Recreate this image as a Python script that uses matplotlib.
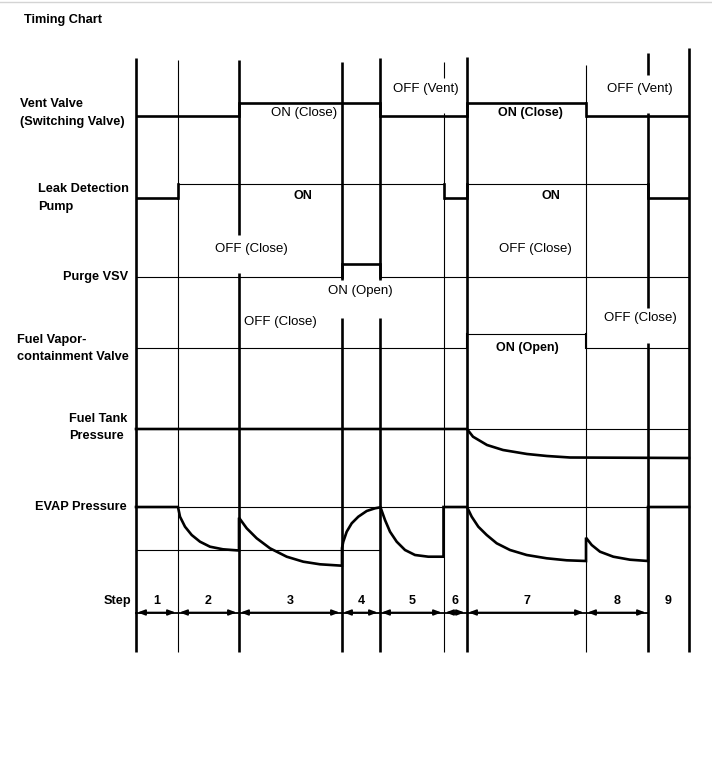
import matplotlib
matplotlib.use("Agg")
import matplotlib.pyplot as plt

plt.rcParams['font.family'] = ['Liberation Sans', 'DejaVu Sans']

# step boundaries along the time axis
t = [136, 178, 239, 342, 380, 444, 467, 586, 648, 689]
step_names = ['1', '2', '3', '4', '5', '6', '7', '8', '9']
thick_bounds = [136, 239, 342, 380, 467, 648, 689]
bound_tops = [58, 60, 60, 62, 58, 62, 57, 65, 53, 48]
bound_bottom = 652
# breaks in the boundary lines where labels sit
bound_gaps = {239: [(235, 273)], 342: [(280, 318)], 380: [(280, 318)],
              444: [(78, 113)], 648: [(75, 113), (308, 343)]}

# on/off state per step (1 = on)
vent_state = [0, 0, 1, 1, 0, 0, 1, 0, 0]
pump_state = [0, 1, 1, 1, 1, 0, 1, 1, 0]
purge_state = [0, 0, 0, 1, 0, 0, 0, 0, 0]
fvc_state = [0, 0, 0, 0, 0, 0, 1, 0, 0]

# row levels (off, on)
vent_lv = (116, 103)
pump_lv = (198, 184)
purge_lv = (277, 264)
fvc_lv = (348, 334)

# fuel tank pressure trace
tank_x = [136, 467, 473, 487, 503, 527, 547, 570, 689]
tank_y = [429, 429, 436.7, 445, 450, 454, 456, 457.5, 458]
tank_ref = 429

# EVAP pressure trace
evap_x = [136, 178, 180, 185, 191.7, 200, 210, 223, 239,
          239, 246.7, 256.7, 270, 286.7, 303.3, 320, 342,
          342, 343.3, 346.7, 351.7, 358.3, 366.7, 375, 380.5,
          385, 390, 396.7, 405, 415, 428.3, 443.5, 443.5, 467,
          471.7, 478.3, 486.7, 496.7, 510, 526.7, 546.7, 566.7, 586,
          586, 591.7, 600, 613.3, 630, 648, 648, 689]
evap_y = [507, 507, 516.7, 526.7, 535, 541.7, 546.7, 549.3, 550.5,
          517.7, 528.3, 538.3, 548.3, 556.7, 561.7, 564.3, 565.7,
          548, 541.7, 531.7, 523.3, 516.7, 511, 508.3, 507.3,
          520, 531.7, 541.7, 550, 555, 556.7, 556.7, 507, 507,
          516.7, 526.7, 535, 543.3, 550, 555, 558.3, 560.3, 561,
          537.7, 545, 551.7, 556.7, 559.7, 561, 507, 507]
evap_ref_hi = 507
evap_ref_lo = 550

THICK = 1.9
THIN = 0.8

fig = plt.figure(figsize=(7.12, 7.82), dpi=100)
ax = fig.add_axes([0, 0, 1, 1])
ax.set_xlim(0, 712)
ax.set_ylim(782, 0)
ax.axis('off')

ax.plot([0, 712], [2, 2], color='#d4d4d4', lw=1)

# boundary lines
for x, top in zip(t, bound_tops):
    lw = THICK if x in thick_bounds else THIN
    pieces = []
    y0 = top
    for g0, g1 in bound_gaps.get(x, []):
        pieces.append((y0, g0))
        y0 = g1
    pieces.append((y0, bound_bottom))
    for a, b in pieces:
        ax.plot([x, x], [a, b], color='k', lw=lw, solid_capstyle='butt')


def draw_signal(state, lv, lw_off, lw_on, lw_edge):
    for i, s in enumerate(state):
        y = lv[s]
        ax.plot([t[i], t[i + 1]], [y, y], color='k',
                lw=lw_on if s else lw_off, solid_capstyle='butt')
        if i > 0 and state[i - 1] != s:
            ax.plot([t[i], t[i]], [lv[0], lv[1]], color='k', lw=lw_edge,
                    solid_capstyle='projecting')


draw_signal(vent_state, vent_lv, THICK, THICK, THICK)
draw_signal(pump_state, pump_lv, THICK, THIN, THICK)
draw_signal(purge_state, purge_lv, THIN, THICK, THICK)
draw_signal(fvc_state, fvc_lv, THIN, THIN, 1.5)

# fuel tank pressure
ax.plot([t[6], t[-1]], [tank_ref, tank_ref], color='k', lw=THIN)
ax.plot(tank_x, tank_y, color='k', lw=THICK, solid_joinstyle='round')

# EVAP pressure
ax.plot([t[0], t[-1]], [evap_ref_hi, evap_ref_hi], color='k', lw=THIN)
ax.plot([t[0], t[4]], [evap_ref_lo, evap_ref_lo], color='k', lw=THIN)
ax.plot(evap_x, evap_y, color='k', lw=THICK, solid_joinstyle='miter')

# step arrows
arrow_y = 612.5
ax.plot([t[0], t[-2]], [arrow_y, arrow_y], color='k', lw=1.3)
for i in range(len(step_names) - 1):
    ax.annotate('', xy=(t[i] + 1.5, arrow_y), xytext=(t[i + 1] - 2.5, arrow_y),
                arrowprops=dict(arrowstyle='<|-|>,head_length=0.45,head_width=0.17',
                                lw=1.2, color='k', shrinkA=0, shrinkB=0))
for i, name in enumerate(step_names):
    ax.text((t[i] + t[i + 1]) / 2, 601, name, ha='center', va='center',
            fontsize=9, fontweight='bold')

# left labels
lab = dict(fontsize=9.2, fontweight='bold', va='center')
ax.text(24, 20, 'Timing Chart', ha='left', **lab)
ax.text(20, 104, 'Vent Valve', ha='left', **lab)
ax.text(20, 122, '(Switching Valve)', ha='left', **lab)
ax.text(38, 189, 'Leak Detection', ha='left', **lab)
ax.text(38, 207, 'Pump', ha='left', **lab)
ax.text(128, 277, 'Purge VSV', ha='right', **lab)
ax.text(17, 340, 'Fuel Vapor-', ha='left', **lab)
ax.text(17, 357, 'containment Valve', ha='left', **lab)
ax.text(69, 419, 'Fuel Tank', ha='left', **lab)
ax.text(69, 436, 'Pressure', ha='left', **lab)
ax.text(127, 507, 'EVAP Pressure', ha='right', **lab)
ax.text(131, 601, 'Step', ha='right', **lab)

# state labels inside the chart
st = dict(fontsize=9.5, ha='center', va='center')
bst = dict(fontsize=9, fontweight='bold', ha='center', va='center')
ax.text(304, 113, 'ON (Close)', **st)
ax.text(426, 89, 'OFF (Vent)', **st)
ax.text(530, 113, 'ON (Close)', **bst)
ax.text(640, 89, 'OFF (Vent)', **st)
ax.text(303, 196, 'ON', **bst)
ax.text(551, 196, 'ON', **bst)
ax.text(251, 249, 'OFF (Close)', **st)
ax.text(535, 249, 'OFF (Close)', **st)
ax.text(360, 291, 'ON (Open)', **st)
ax.text(280, 322, 'OFF (Close)', **st)
ax.text(640, 318, 'OFF (Close)', **st)
ax.text(527, 348, 'ON (Open)', **bst)

fig.savefig('out.png', dpi=100)
